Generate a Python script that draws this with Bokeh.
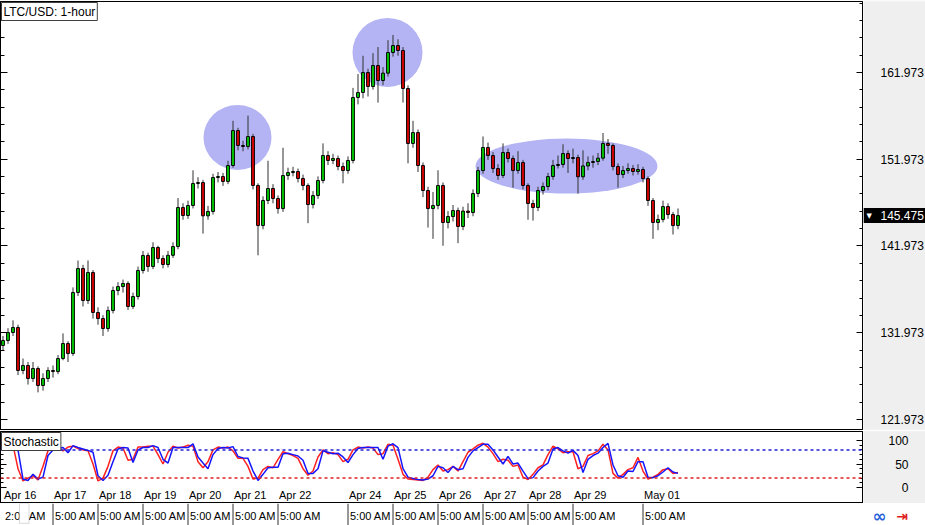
from bokeh.plotting import figure
from bokeh.models import (Range1d, FixedTicker, LinearAxis, Label, Span, BoxAnnotation,
                          ColumnDataSource)
from bokeh.layouts import column, row
from bokeh.embed import file_html
from bokeh.resources import INLINE
from bokeh.core.properties import value

# ---------------- data (LTC/USD, ~2.5h candles) ----------------
opens = [
    130.50, 131.08, 132.00, 132.58, 127.62, 128.20, 126.70, 127.85, 125.89, 126.70,
    127.62, 127.50, 129.00, 130.73, 129.58, 136.61, 139.38, 135.69, 138.92, 134.31,
    133.61, 132.46, 134.54, 136.84, 137.30, 137.65, 135.00, 136.15, 139.15, 140.88,
    139.61, 141.80, 140.53, 139.84, 140.90, 141.91, 146.41, 145.49, 146.64, 149.18,
    149.29, 145.45, 145.95, 149.87, 149.98, 149.41, 151.25, 155.28, 153.56, 153.44,
    154.59, 148.95, 144.33, 147.22, 148.60, 147.45, 146.29, 150.10, 150.44, 150.56,
    149.75, 148.95, 146.75, 147.79, 149.52, 152.40, 151.83, 152.06, 151.14, 150.67,
    151.83, 159.09, 159.67, 161.97, 160.36, 162.78, 161.05, 161.90, 164.28, 165.08,
    164.51, 160.13, 153.79, 155.05, 151.25, 148.37, 146.29, 146.64, 148.95, 144.68,
    145.37, 146.06, 144.22, 146.00, 145.83, 148.02, 150.67, 153.33, 152.40, 150.90,
    150.10, 152.75, 152.06, 150.67, 151.60, 148.95, 146.87, 146.41, 148.37, 148.83,
    149.98, 151.25, 151.37, 152.63, 152.06, 152.17, 149.95, 151.20, 151.60, 151.71,
    152.10, 153.79, 153.56, 151.14, 150.21, 150.67, 150.90, 150.56, 150.79, 149.75,
    147.22, 144.68, 145.03, 146.52, 145.60, 144.33,
]
highs = [
    131.6, 132.5, 133.4, 132.9, 129.0, 128.6, 128.6, 128.1, 127.3, 128.0,
    128.2, 129.4, 131.9, 131.0, 137.2, 140.3, 139.8, 140.3, 139.2, 134.9,
    134.0, 135.0, 137.3, 137.8, 138.1, 137.9, 136.6, 139.6, 141.4, 141.2,
    142.4, 142.0, 140.9, 141.4, 142.4, 147.5, 146.9, 147.2, 150.7, 149.9,
    149.6, 146.6, 150.3, 150.5, 150.4, 151.8, 156.4, 155.6, 154.1, 157.0,
    154.9, 149.2, 147.7, 151.8, 149.1, 147.8, 153.3, 151.0, 151.1, 150.9,
    150.2, 149.2, 148.3, 150.0, 153.8, 152.9, 152.6, 152.4, 151.6, 152.3,
    160.2, 161.8, 163.9, 162.4, 164.2, 164.9, 162.6, 165.7, 166.3, 165.8,
    164.9, 160.5, 156.4, 155.4, 151.6, 148.8, 148.2, 150.7, 149.3, 146.0,
    146.7, 146.4, 146.5, 146.9, 148.5, 151.1, 154.6, 153.9, 152.8, 151.4,
    153.8, 153.2, 152.4, 152.9, 151.9, 149.2, 147.3, 148.8, 149.3, 150.4,
    151.9, 152.4, 153.7, 153.0, 153.2, 152.5, 153.0, 152.3, 152.4, 152.7,
    155.0, 154.3, 153.8, 151.5, 151.2, 151.5, 151.3, 151.4, 151.1, 150.0,
    147.5, 145.6, 147.2, 146.9, 145.9, 146.3,
]
lows = [
    129.9, 130.7, 131.6, 127.1, 127.2, 126.0, 126.3, 125.1, 125.3, 126.3,
    126.8, 127.2, 128.8, 128.6, 129.3, 136.2, 135.0, 135.3, 133.6, 132.9,
    131.6, 132.1, 134.2, 136.3, 136.6, 134.6, 134.7, 135.8, 138.8, 139.0,
    139.3, 140.0, 139.4, 139.5, 140.6, 141.6, 145.0, 145.1, 146.3, 148.6,
    143.4, 145.0, 145.6, 149.3, 148.9, 149.1, 151.0, 153.0, 152.9, 153.1,
    148.5, 140.9, 143.9, 146.8, 146.9, 145.7, 145.9, 149.6, 150.0, 149.3,
    148.4, 144.6, 146.3, 147.4, 149.2, 151.3, 151.4, 150.7, 149.2, 150.3,
    151.5, 158.3, 159.0, 159.2, 160.0, 158.5, 160.5, 161.5, 163.8, 163.9,
    158.5, 151.5, 153.3, 150.5, 147.6, 144.1, 142.8, 146.2, 142.0, 144.0,
    144.8, 142.3, 143.8, 145.2, 145.4, 147.6, 150.3, 151.9, 150.4, 149.6,
    149.8, 151.6, 148.7, 150.3, 148.5, 145.0, 144.9, 146.0, 147.9, 148.4,
    149.6, 150.9, 151.0, 150.4, 151.5, 148.0, 149.6, 150.7, 151.0, 151.3,
    151.8, 152.6, 150.7, 148.7, 149.8, 150.3, 150.1, 150.2, 149.3, 146.6,
    142.8, 143.8, 144.7, 145.1, 143.3, 143.9,
]
closes = [
    131.08, 132.00, 132.58, 127.62, 128.20, 126.70, 127.85, 125.89, 126.70, 127.62,
    127.50, 129.00, 130.73, 129.58, 136.61, 139.38, 135.69, 138.92, 134.31, 133.61,
    132.46, 134.54, 136.84, 137.30, 137.65, 135.00, 136.15, 139.15, 140.88, 139.61,
    141.80, 140.53, 139.84, 140.90, 141.91, 146.41, 145.49, 146.64, 149.18, 149.29,
    145.45, 145.95, 149.87, 149.98, 149.41, 151.25, 155.28, 153.56, 153.44, 154.59,
    148.95, 144.33, 147.22, 148.60, 147.45, 146.29, 150.10, 150.44, 150.56, 149.75,
    148.95, 146.75, 147.79, 149.52, 152.40, 151.83, 152.06, 151.14, 150.67, 151.83,
    159.09, 159.67, 161.97, 160.36, 162.78, 161.05, 161.90, 164.28, 165.08, 164.51,
    160.13, 153.79, 155.05, 151.25, 148.37, 146.29, 146.64, 148.95, 144.68, 145.37,
    146.06, 144.22, 146.00, 145.83, 148.02, 150.67, 153.33, 152.40, 150.90, 150.10,
    152.75, 152.06, 150.67, 151.60, 148.95, 146.87, 146.41, 148.37, 148.83, 149.98,
    151.25, 151.37, 152.63, 152.06, 152.17, 149.95, 151.20, 151.60, 151.71, 152.10,
    153.79, 153.56, 151.14, 150.21, 150.67, 150.90, 150.56, 150.79, 149.75, 147.22,
    144.68, 145.03, 146.52, 145.60, 144.33, 145.475,
]
stoch_k = [
    86, 92, 90, 40, 14, 20, 25, 16, 45, 78,
    84, 86, 78, 86, 88, 83, 80, 78, 50, 14,
    20, 45, 78, 86, 84, 58, 60, 86, 86, 88,
    88, 70, 50, 75, 88, 84, 86, 90, 88, 55,
    42, 55, 80, 86, 84, 86, 78, 62, 62, 45,
    18, 20, 38, 45, 42, 60, 76, 72, 68, 62,
    40, 26, 35, 65, 80, 72, 74, 70, 55, 60,
    80, 86, 84, 86, 84, 70, 72, 92, 90, 60,
    28, 18, 17, 16, 15, 22, 38, 48, 35, 38,
    45, 35, 55, 75, 82, 90, 94, 86, 72, 55,
    60, 58, 45, 48, 22, 17, 28, 42, 48, 70,
    88, 82, 74, 76, 76, 40, 45, 68, 72, 78,
    92, 80, 30, 20, 28, 38, 42, 64, 35, 18,
    22, 28, 38, 40, 30, 32,
]
stoch_d = [
    83, 88, 94, 80, 18, 15, 28, 18, 22, 68,
    80, 84, 85, 74, 89, 85, 82, 79, 75, 25,
    15, 26, 55, 82, 85, 84, 53, 80, 85, 85,
    89, 85, 60, 52, 85, 85, 85, 85, 93, 65,
    52, 40, 70, 83, 85, 84, 87, 66, 63, 62,
    35, 15, 28, 42, 43, 43, 72, 73, 70, 67,
    58, 30, 30, 40, 78, 75, 72, 73, 65, 53,
    70, 83, 85, 85, 85, 85, 60, 88, 93, 85,
    40, 22, 19, 17, 16, 18, 25, 45, 42, 32,
    45, 38, 40, 64, 78, 85, 92, 92, 80, 65,
    50, 66, 50, 52, 35, 19, 21, 35, 45, 52,
    82, 85, 78, 73, 79, 68, 32, 60, 68, 73,
    85, 94, 48, 25, 22, 35, 34, 55, 55, 22,
    21, 25, 33, 42, 33, 30,
]
day_labels = ["Apr 16", "Apr 17", "Apr 18", "Apr 19", "Apr 20", "Apr 21", "Apr 22",
              "Apr 24", "Apr 25", "Apr 26", "Apr 27", "Apr 28", "Apr 29", "May 01"]
day_bars = [0, 10, 19, 28, 37, 46, 55, 69, 78, 87, 96, 105, 114, 128]
time_labels = ["2:00 AM", "5:00 AM", "5:00 AM", "5:00 AM", "5:00 AM", "5:00 AM", "5:00 AM",
               "5:00 AM", "5:00 AM", "5:00 AM", "5:00 AM", "5:00 AM", "5:00 AM", "5:00 AM"]
price_ticks = [121.973, 131.973, 141.973, 151.973, 161.973]
price_tick_labels = ["121.973", "131.973", "141.973", "151.973", "161.973"]
stoch_ticks = [0, 50, 100]
stoch_tick_labels = ["0", "50", "100"]
# highlighted zones drawn by the analyst (centre bar, centre price, width in bars, height in price)
zone_x = [46.9, 76.9, 112.7]
zone_y = [154.48, 164.28, 151.19]
zone_w = [13.6, 14.0, 36.4]
zone_h = [7.5, 7.95, 6.34]

# ---------------- layout ----------------
FONT = "Liberation Sans"
PLOT_W = 863
RIGHT_W = 62
FULL_W = PLOT_W + RIGHT_W
MAIN_H = 430
STO_H = 73
BOT_H = 22
GRAY = "#efefef"

bars = list(range(len(closes)))
xr = Range1d(-0.5, 171.9)
yr = Range1d(120.82, 170.157)
syr = Range1d(-34.04, 119.15)

minor_price = [round(119.973 + 2 * k, 3) for k in range(27)]
minor_stoch = list(range(0, 101, 10))


def tick_axis(ticks, length):
    return LinearAxis(ticker=FixedTicker(ticks=[], minor_ticks=ticks),
                      major_tick_in=0, major_tick_out=0,
                      minor_tick_in=length, minor_tick_out=0,
                      minor_tick_line_color="black", axis_line_color="black",
                      major_label_standoff=0)


def base_fig(w, h, x_range, y_range, top, bottom, right, bg, border):
    f = figure(width=w, height=h, x_range=x_range, y_range=y_range, output_backend="svg",
               toolbar_location=None, x_axis_location=None, y_axis_location=None,
               min_border_left=0, min_border_right=right, min_border_top=top,
               min_border_bottom=bottom, background_fill_color=bg, border_fill_color=border)
    f.grid.visible = False
    return f


# ---- main price panel ----
p = base_fig(PLOT_W, MAIN_H, xr, yr, 1, 1, 1, "white", GRAY)
p.outline_line_color = "black"
p.outline_line_width = 1
p.add_layout(tick_axis(minor_price, 4), "left")
p.add_layout(tick_axis(price_ticks, 7), "left")
p.add_layout(tick_axis(minor_price, 3), "right")
p.add_layout(tick_axis(price_ticks, 6), "right")

p.ellipse(x=zone_x, y=zone_y, width=zone_w, height=zone_h,
          fill_color="#b4b4f4", line_color=None)

up = [i for i in bars if closes[i] >= opens[i]]
dn = [i for i in bars if closes[i] < opens[i]]


def src(idx):
    return ColumnDataSource(dict(x=idx, o=[opens[i] for i in idx], c=[closes[i] for i in idx],
                                 h=[highs[i] for i in idx], l=[lows[i] for i in idx]))


for idx, col in ((up, "#00d000"), (dn, "#e00000")):
    s = src(idx)
    p.segment(x0="x", y0="h", x1="x", y1="l", source=s, line_color="#303030", line_width=1)
    p.vbar(x="x", width=0.56, top="o", bottom="c", source=s,
           fill_color=col, line_color="black", line_width=1)

p.add_layout(Label(x=xr.start, y=yr.end, text="LTC/USD: 1-hour", text_font=FONT,
                   text_font_size="12px", text_alpha=0, text_baseline="top", text_align="left",
                   x_offset=3, y_offset=-3, padding=2, background_fill_color="#9a9a9a"))
p.add_layout(Label(x=xr.start, y=yr.end, text="LTC/USD: 1-hour", text_font=FONT,
                   text_font_size="12px", text_color="black", text_baseline="top",
                   text_align="left", x_offset=1, y_offset=-1, padding=2,
                   background_fill_color="white", border_line_color="#404040"))

# ---- price scale panel ----
last = closes[-1]
pr = base_fig(RIGHT_W, MAIN_H, Range1d(0, RIGHT_W), yr, 1, 1, 0, GRAY, GRAY)
pr.outline_line_color = None
pr.text(x=17, y=price_ticks, text=price_tick_labels, text_font=value(FONT),
        text_font_size="12px", text_color="black", text_baseline="middle", text_align="left")
pr.rect(x=RIGHT_W / 2, y=[last], width=RIGHT_W, height=15, height_units="screen",
        fill_color="black", line_color=None)
pr.text(x=17, y=[last], text=["%.3f" % last], text_font=value(FONT), text_font_size="12px",
        text_color="white", text_baseline="middle", text_align="left")
pr.text(x=3, y=[last], text=["\u25bc"], text_font=value("DejaVu Sans"), text_font_size="7px",
        text_color="white", text_baseline="middle", text_align="left")

# ---- stochastic panel ----
ps = base_fig(PLOT_W, STO_H, xr, syr, 1, 0, 1, "white", GRAY)
ps.outline_line_color = "black"
ps.outline_line_width = 1
ps.add_layout(tick_axis(minor_stoch, 3), "left")
ps.add_layout(tick_axis(stoch_ticks, 6), "left")
ps.add_layout(tick_axis(minor_stoch, 3), "right")
ps.add_layout(tick_axis(stoch_ticks, 6), "right")
ps.add_layout(Span(location=80, dimension="width", line_color="#2020d8",
                   line_dash="3 3", line_width=1.5))
ps.add_layout(Span(location=20, dimension="width", line_color="#e02020",
                   line_dash="3 3", line_width=1.5))
ps.line(x=bars, y=stoch_k, line_color="#ff2020", line_width=1.5)
ps.line(x=bars, y=stoch_d, line_color="#1515ff", line_width=1.5)
ps.text(x=day_bars, y=-3, text=day_labels, text_font=value(FONT), text_font_size="11px",
        text_color="black", text_baseline="top", text_align="left", x_offset=1)
ps.add_layout(Label(x=xr.start, y=syr.end, text="Stochastic", text_font=FONT,
                    text_font_size="12px", text_alpha=0, text_baseline="top", text_align="left",
                    x_offset=3, y_offset=-3, padding=2, background_fill_color="#9a9a9a"))
ps.add_layout(Label(x=xr.start, y=syr.end, text="Stochastic", text_font=FONT,
                    text_font_size="12px", text_color="black", text_baseline="top",
                    text_align="left", x_offset=1, y_offset=-1, padding=2,
                    background_fill_color="white", border_line_color="#404040"))

psr = base_fig(RIGHT_W, STO_H, Range1d(0, RIGHT_W), syr, 1, 0, 0, GRAY, GRAY)
psr.outline_line_color = None
psr.text(x=45, y=stoch_ticks, text=stoch_tick_labels, text_font=value(FONT),
         text_font_size="12px", text_color="black", text_baseline="middle", text_align="right")

# ---- time row ----
bar_span = xr.end - xr.start
pb = base_fig(FULL_W, BOT_H,
              Range1d(xr.start, xr.start + bar_span * FULL_W / (PLOT_W - 1)),
              Range1d(0, 1), 0, 0, 0, "white", "white")
pb.outline_line_color = None
pb.segment(x0=day_bars[1:], y0=0, x1=day_bars[1:], y1=1, line_color="#303030", line_width=1)
pb.text(x=day_bars, y=0.45, text=time_labels, text_font=value(FONT), text_font_size="11px",
        text_color="black", text_baseline="middle", text_align="left", x_offset=2)
pb.add_layout(BoxAnnotation(left=3.3, right=5.2, bottom=0.1, top=1.0,
                            fill_color="white", fill_alpha=1, line_color="#808080"))
pb.add_layout(Label(x=175.3, y=0.45, text="\u221e", text_font="DejaVu Sans",
                    text_font_size="17px", text_font_style="bold", text_color="#1f5fd8",
                    text_baseline="middle", text_align="center"))
pb.add_layout(Label(x=179.8, y=0.45, text="\u21e5", text_font="DejaVu Sans",
                    text_font_size="14px", text_font_style="bold", text_color="#e02020",
                    text_baseline="middle", text_align="center"))

layout = column(row(p, pr, spacing=0), row(ps, psr, spacing=0), pb, spacing=0)
open("out.html", "w").write(file_html(layout, INLINE))
